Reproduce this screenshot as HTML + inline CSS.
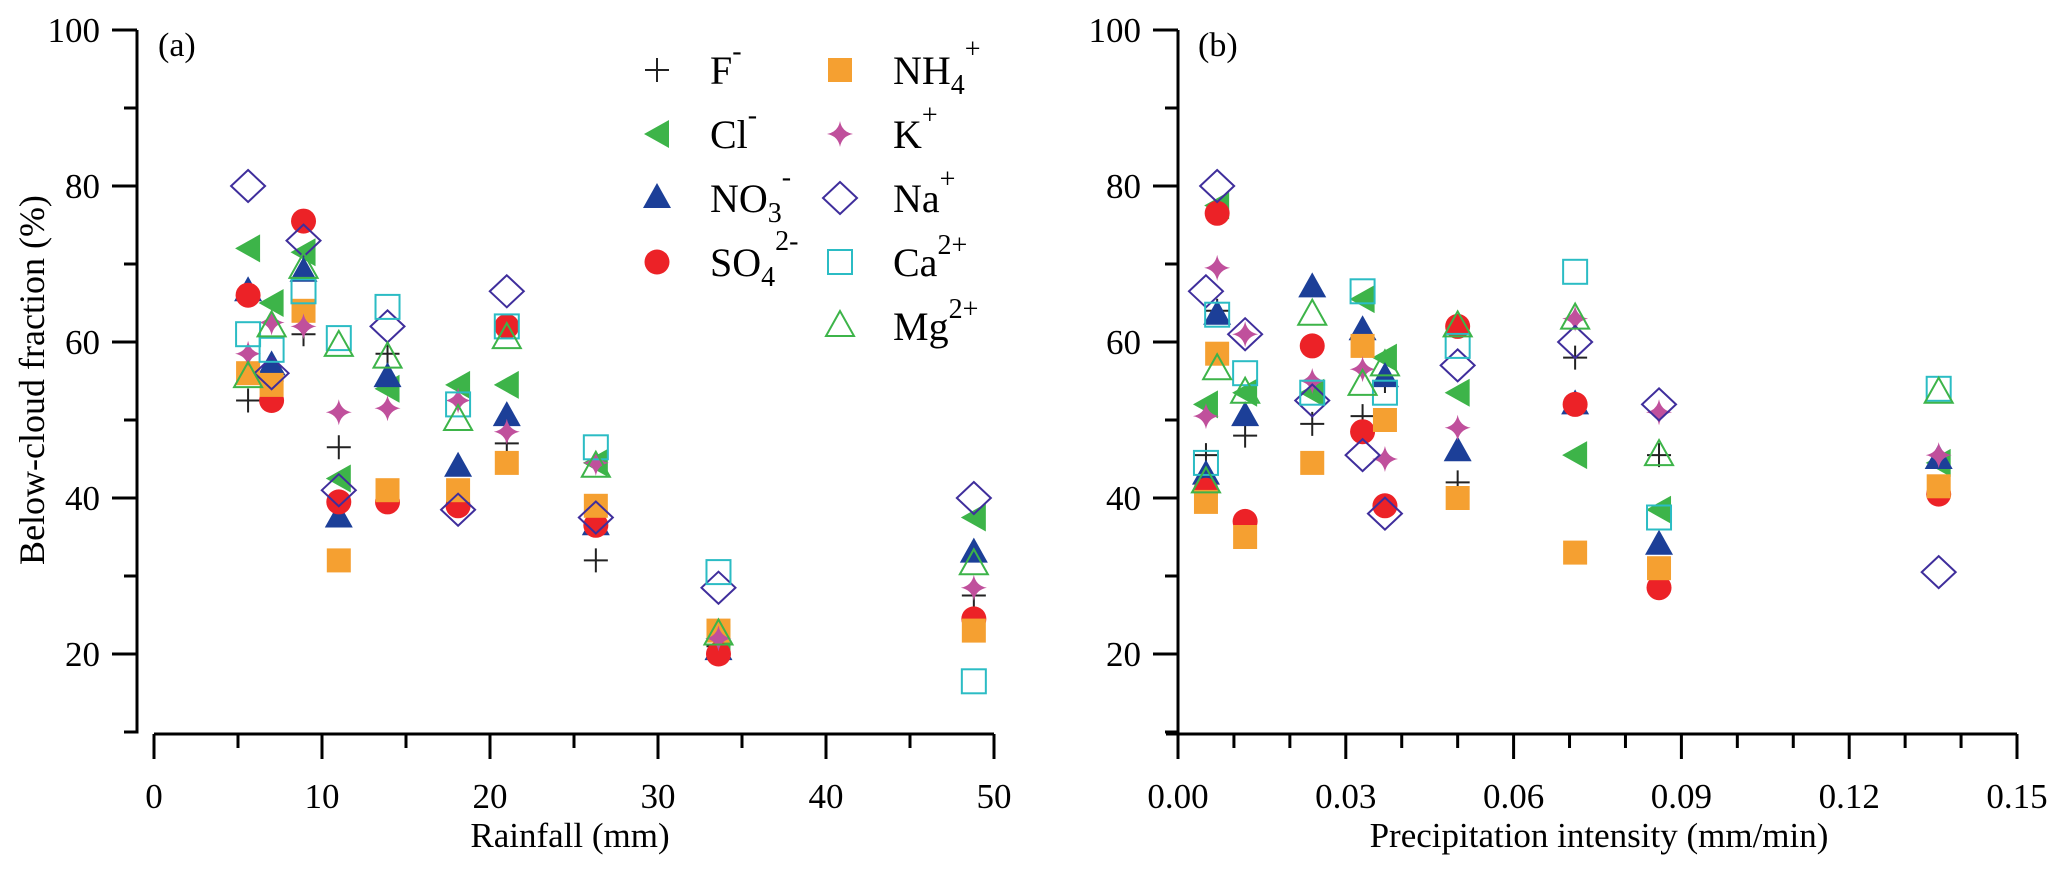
<!DOCTYPE html>
<html><head><meta charset="utf-8">
<style>
html,body{margin:0;padding:0;background:#fff;}
svg{display:block;}
svg text{font-family:"Liberation Serif","DejaVu Serif","Times New Roman",serif;}
</style></head>
<body>
<svg id="chart" width="2067" height="880" viewBox="0 0 2067 880" xmlns="http://www.w3.org/2000/svg" font-family="Liberation Serif, DejaVu Serif, serif"></svg>
<script>
// ---- data ----
const rainfall = [5.6, 7.0, 8.9, 11.0, 13.9, 18.1, 21.0, 26.3, 33.6, 48.8];
const intensity = [0.005, 0.007, 0.012, 0.024, 0.033, 0.037, 0.050, 0.071, 0.086, 0.136];
const ions = ["F", "Cl", "NO3", "SO4", "NH4", "K", "Na", "Ca", "Mg"];
const aF   = [52.5, 55, 61, 46.5, 58.5, 39.5, 47, 32, 21, 27.5];
const aCl  = [72, 65, 71.5, 42.5, 54, 54.5, 54.5, 44.5, 22, 37.5];
const aNO3 = [66.5, 57, 69, 37.5, 55.5, 44, 50.5, 36.5, 20.5, 33];
const aSO4 = [66, 52.5, 75.5, 39.5, 39.5, 39, 62, 36.5, 20, 24.5];
const aNH4 = [56, 54.5, 64, 32, 41, 41, 44.5, 39, 23, 23];
const aK   = [58.5, 62.5, 62, 51, 51.5, 52.5, 48.5, 44.5, 22, 28.5];
const aNa  = [80, 56, 73, 41, 62, 38.5, 66.5, 37.5, 28.5, 40];
const aCa  = [61, 59, 66.5, 60.5, 64.5, 52, 62, 46.5, 30.5, 16.5];
const aMg  = [55.5, 62, 69.5, 59.5, 58, 50, 60.5, 44, 22.5, 31.5];
const bF   = [45.5, 64, 48, 49.5, 50.5, 55, 42, 58, 45.5, 40.5];
const bCl  = [52, 77.5, 53.5, 53.5, 65.5, 58, 53.5, 45.5, 38.5, 44.5];
const bNO3 = [43, 63.5, 50.5, 67, 61.5, 55.5, 46, 52, 34, 45];
const bSO4 = [41, 76.5, 37, 59.5, 48.5, 39, 62, 52, 28.5, 40.5];
const bNH4 = [39.5, 58.5, 35, 44.5, 59.5, 50, 40, 33, 31, 41.5];
const bK   = [50.5, 69.5, 61, 55, 56.5, 45, 49, 63, 51, 45.5];
const bNa  = [66.5, 80, 61, 52.5, 45.5, 38, 57, 60, 52, 30.5];
const bCa  = [44.5, 63.5, 56, 53.5, 66.5, 53.5, 59.5, 69, 37.5, 54];
const bMg  = [42, 56.5, 53.5, 63.5, 54.5, 57, 62, 63, 45.5, 53.5];
const yTicks = [20, 40, 60, 80, 100];
const xTicksA = [0, 10, 20, 30, 40, 50];
const xTicksB = ["0.00", "0.03", "0.06", "0.09", "0.12", "0.15"];

const seriesA = [aF, aCl, aNO3, aSO4, aNH4, aK, aNa, aCa, aMg];
const seriesB = [bF, bCl, bNO3, bSO4, bNH4, bK, bNa, bCa, bMg];

const NS = "http://www.w3.org/2000/svg";
const FONT = "Liberation Serif, DejaVu Serif, Times New Roman, serif";
const svg = document.getElementById("chart");
function mk(tag, attrs, parent) {
  const e = document.createElementNS(NS, tag);
  for (const k in attrs) e.setAttribute(k, attrs[k]);
  (parent || svg).appendChild(e);
  return e;
}
const yS = v => 30 + (100 - v) * 7.8;
const xA = v => 154 + v * 16.8;
const xB = v => 1178 + v * 5593.3;

const COL = {F:"#222", Cl:"#3db449", NO3:"#1c3f98", SO4:"#ec2227", NH4:"#f5a031", K:"#c0509c", Na:"#3f2e9c", Ca:"#2bbcc4", Mg:"#3db449"};

function marker(ion, x, y, g) {
  const c = COL[ion];
  let e;
  if (ion === "F") {
    e = mk("path", {d:`M${x-12} ${y}H${x+12}M${x} ${y-12}V${y+12}`, stroke:c, "stroke-width":2, fill:"none"}, g);
  } else if (ion === "Cl") {
    e = mk("polygon", {points:`${x-13},${y} ${x+12},${y-14} ${x+12},${y+14}`, fill:c}, g);
  } else if (ion === "NO3") {
    e = mk("polygon", {points:`${x},${y-15} ${x-14},${y+10} ${x+14},${y+10}`, fill:c}, g);
  } else if (ion === "SO4") {
    e = mk("circle", {cx:x, cy:y, r:12.5, fill:c}, g);
  } else if (ion === "NH4") {
    e = mk("rect", {x:x-12, y:y-12, width:24, height:24, fill:c}, g);
  } else if (ion === "K") {
    e = mk("path", {d:`M${x} ${y-13}Q${x+2} ${y-2} ${x+13} ${y}Q${x+2} ${y+2} ${x} ${y+13}Q${x-2} ${y+2} ${x-13} ${y}Q${x-2} ${y-2} ${x} ${y-13}Z`, fill:c}, g);
  } else if (ion === "Na") {
    e = mk("polygon", {points:`${x},${y-16} ${x+17},${y} ${x},${y+16} ${x-17},${y}`, fill:"none", stroke:c, "stroke-width":2}, g);
  } else if (ion === "Ca") {
    e = mk("rect", {x:x-12, y:y-12, width:24, height:24, fill:"none", stroke:c, "stroke-width":2}, g);
  } else {
    e = mk("polygon", {points:`${x},${y-15} ${x-14},${y+10} ${x+14},${y+10}`, fill:"none", stroke:c, "stroke-width":2}, g);
  }
  return e;
}

function txt(s, attrs, parent) { attrs["font-family"] = FONT; const t = mk("text", attrs, parent); t.textContent = s; return t; }

function panel(id, xLeftAxis, xStartLine, xEndLine, xTickPos, xTickLabels, xMinor, title, titleX, label, labelX, series, xs, xf) {
  const g = mk("g", {});
  
  
  const ya = mk("g", {}, g);
  
  
  mk("line", {x1:xLeftAxis, y1:yS(100), x2:xLeftAxis, y2:yS(10)+1.5, stroke:"#000", "stroke-width":3}, ya);
  for (let v = 10; v <= 100; v += 10) {
    const major = v % 20 === 0;
    mk("line", {x1:xLeftAxis - (major ? 25 : 13), y1:yS(v), x2:xLeftAxis, y2:yS(v), stroke:"#000", "stroke-width":3}, ya);
  }
  yTicks.forEach(v => {
    const t = txt(String(v), {x:xLeftAxis - 37, y:yS(v) + 12, "font-size":35, "text-anchor":"end"}, ya);
    
    
  });
  const xa = mk("g", {}, g);
  
  
  mk("line", {x1:xStartLine, y1:734, x2:xEndLine, y2:734, stroke:"#000", "stroke-width":3}, xa);
  xMinor.forEach(p => mk("line", {x1:p, y1:734, x2:p, y2:748, stroke:"#000", "stroke-width":3}, xa));
  xTickPos.forEach((p, i) => {
    mk("line", {x1:p, y1:734, x2:p, y2:759, stroke:"#000", "stroke-width":3}, xa);
    const t = txt(xTickLabels[i], {x:p, y:808, "font-size":35, "text-anchor":"middle"}, xa);
    
    
  });
  const tt = txt(title, {x:titleX, y:847, "font-size":35, "text-anchor":"middle"}, g);
  
  
  const pl = txt(label, {x:labelX, y:56, "font-size":34}, g);
  
  
  series.forEach((vals, si) => {
    const sg = mk("g", {}, g);
    
    
    vals.forEach((v, i) => {
      const m = marker(ions[si], xf(xs[i]), yS(v), sg);
      
      
    });
  });
}

const minorA = [5, 15, 25, 35, 45].map(xA);
panel("panel-a", 137, 154, xA(50), xTicksA.map(xA), xTicksA.map(String), minorA,
      "Rainfall (mm)", 570, "(a)", 158, seriesA, rainfall, xA);
const minorB = [];
for (let i = 1; i < 15; i++) if (i % 3 !== 0) minorB.push(xB(i * 0.01));
panel("panel-b", 1178, 1166, xB(0.15), xTicksB.map(s => xB(parseFloat(s))), xTicksB, minorB,
      "Precipitation intensity (mm/min)", 1599, "(b)", 1198, seriesB, intensity, xB);

const yt = txt("Below-cloud fraction (%)", {x:0, y:0, "font-size":36, "text-anchor":"middle", transform:"translate(44,380) rotate(-90)"});



const leg = mk("g", {});


const legendItems = [
  ["F", 657, 70, "F", "", "-"],
  ["Cl", 657, 134, "Cl", "", "-"],
  ["NO3", 657, 198, "NO", "3", "-"],
  ["SO4", 657, 262, "SO", "4", "2-"],
  ["NH4", 840, 70, "NH", "4", "+"],
  ["K", 840, 134, "K", "", "+"],
  ["Na", 840, 198, "Na", "", "+"],
  ["Ca", 840, 262, "Ca", "2+", ""],
  ["Mg", 840, 326, "Mg", "2+", ""]
];
legendItems.forEach(it => {
  const eg = mk("g", {}, leg);
  
  
  marker(it[0], it[1], it[2], eg);
  const t = mk("text", {x:it[1] + 53, y:it[2] + 14, "font-size":40, "font-family":FONT}, eg);
  t.appendChild(document.createTextNode(it[3]));
  if (it[0] === "Ca" || it[0] === "Mg") {
    const s = mk("tspan", {dy:-22, "font-size":28}, t); s.textContent = it[4];
  } else {
    if (it[4]) { const s = mk("tspan", {dy:10, "font-size":28}, t); s.textContent = it[4]; }
    const s2 = mk("tspan", {dy: it[4] ? -36 : -24, "font-size":28}, t); s2.textContent = it[5];
  }
});
</script>
</body></html>
